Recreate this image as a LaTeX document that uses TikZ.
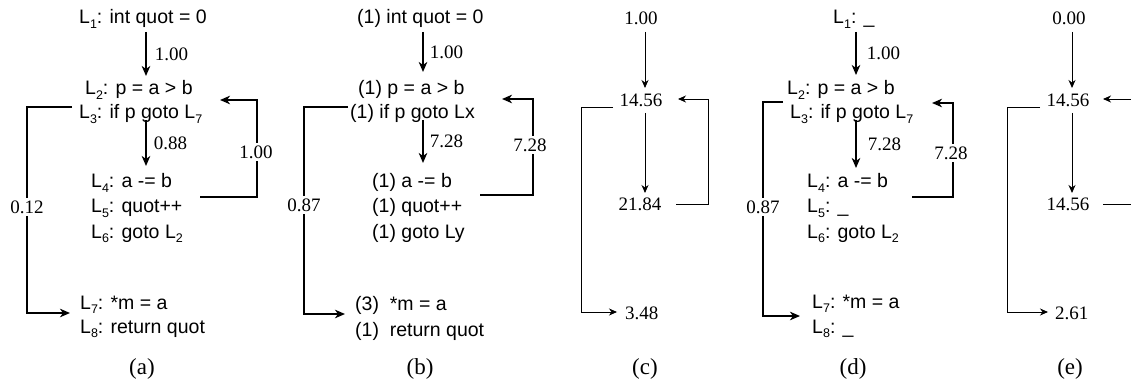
\documentclass[tikz,border=0pt]{standalone}
\usepackage{fontspec}
\setmainfont{Liberation Serif}
\newfontfamily\af{Liberation Sans}
\usetikzlibrary{arrows.meta}
\newcommand\lsub[1]{\raisebox{-0.24em}{\fontsize{12.5}{12}\selectfont #1}}
\tikzset{
  code/.style={anchor=base west,inner sep=0pt,font=\af\fontsize{19.5}{23}\selectfont},
  num/.style={inner sep=0pt,font=\fontsize{19}{22}\selectfont},
  numw/.style={num,fill=white,inner ysep=3pt,inner xsep=1pt},
  captxt/.style={inner sep=0pt,font=\fontsize{23}{26}\selectfont},
  thk/.style={line width=1.8pt},
  thn/.style={line width=0.9pt},
  tk/.style={thk,-{Stealth[length=10pt,width=8.5pt,inset=3pt]}},
  tn/.style={thn,-{Stealth[length=8pt,width=7pt,inset=2.5pt]}},
}
\begin{document}
\begin{tikzpicture}[x=1pt,y=-1pt]
\useasboundingbox (0,0) rectangle (1131,387);
% ---------------- (a)
\node[code] (aL1) at (79,24) {L\lsub{1}: int quot = 0};
\node[code] (aL2) at (85,95) {L\lsub{2}: p = a > b};
\node[code] (aL3) at (79,119) {L\lsub{3}: if p goto L\lsub{7}};
\node[code] (aL4) at (91,188) {L\lsub{4}: a -= b};
\node[code] (aL5) at (91,213) {L\lsub{5}: quot++};
\node[code] (aL6) at (91,238) {L\lsub{6}: goto L\lsub{2}};
\node[code] (aL7) at (80,309) {L\lsub{7}: *m = a};
\node[code] (aL8) at (80,333) {L\lsub{8}: return quot};
\coordinate (a1s) at (146,32); \coordinate (a1e) at (146,76);
\coordinate (a2s) at (146,120); \coordinate (a2e) at (146,166);
\draw[tk] (a1s) -- (a1e) node[num,midway,anchor=west,xshift=8pt] (aw1) {1.00};
\draw[tk] (a2s) -- (a2e) node[num,midway,anchor=west,xshift=7pt] (aw2) {0.88};
\coordinate (ar1) at (200,197); \coordinate (ar2) at (257,197);
\coordinate (ar3) at (257,100); \coordinate (ar4) at (220,100);
\draw[tk] (ar1) -- (ar2) -- (ar3) -- (ar4);
\node[numw] (awr) at (256,152) {1.00};
\coordinate (al1) at (72,107); \coordinate (al2) at (27,107);
\coordinate (al3) at (27,313); \coordinate (al4) at (70,313);
\draw[tk] (al1) -- (al2) -- (al3) -- (al4);
\node[numw] (awl) at (27,207) {0.12};
\node[captxt] (capa) at (142,369) {(a)};
% ---------------- (b)
\node[code] (bL1) at (357,24) {(1) int quot = 0};
\node[code] (bL2) at (358,95) {(1) p = a > b};
\node[code] (bL3) at (350,119) {(1) if p goto Lx};
\node[code] (bL4) at (372,188) {(1) a -= b};
\node[code] (bL5) at (372,213) {(1) quot++};
\node[code] (bL6) at (372,238) {(1) goto Ly};
\node[code] (bL7) at (355,310) {(3)\ \ *m = a};
\node[code] (bL8) at (355,336) {(1)\ \ return quot};
\coordinate (b1s) at (423,32); \coordinate (b1e) at (423,72);
\coordinate (b2s) at (423,120); \coordinate (b2e) at (423,163);
\draw[tk] (b1s) -- (b1e) node[num,midway,anchor=west,xshift=6pt] (bw1) {1.00};
\draw[tk] (b2s) -- (b2e) node[num,midway,anchor=west,xshift=6pt] (bw2) {7.28};
\coordinate (br1) at (480,195); \coordinate (br2) at (533,195);
\coordinate (br3) at (533,99); \coordinate (br4) at (502,99);
\draw[tk] (br1) -- (br2) -- (br3) -- (br4);
\node[numw] (bwr) at (530,145) {7.28};
\coordinate (bl1) at (348,107); \coordinate (bl2) at (304,107);
\coordinate (bl3) at (304,314); \coordinate (bl4) at (345,314);
\draw[tk] (bl1) -- (bl2) -- (bl3) -- (bl4);
\node[numw] (bwl) at (304,205) {0.87};
\node[captxt] (capb) at (420,369) {(b)};
% ---------------- (c)
\node[num] (c1) at (641,18) {1.00};
\node[num] (c2) at (641,100) {14.56};
\node[num] (c3) at (640,204) {21.84};
\node[num,anchor=west] (c4) at (625,313) {3.48};
\coordinate (c1s) at (645,32); \coordinate (c1e) at (645,88);
\coordinate (c2s) at (645,113); \coordinate (c2e) at (645,193);
\draw[tn] (c1s) -- (c1e);
\draw[tn] (c2s) -- (c2e);
\coordinate (cr1) at (676,204); \coordinate (cr2) at (708,204);
\coordinate (cr3) at (708,99); \coordinate (cr4) at (678,99);
\draw[tn] (cr1) -- (cr2) -- (cr3) -- (cr4);
\coordinate (cl1) at (613,107); \coordinate (cl2) at (581,107);
\coordinate (cl3) at (581,312); \coordinate (cl4) at (617,312);
\draw[tn] (cl1) -- (cl2) -- (cl3) -- (cl4);
\node[captxt] (capc) at (645,369) {(c)};
% ---------------- (d)
\node[code] (dL1) at (833,24) {L\lsub{1}: \_};
\node[code] (dL2) at (787,95) {L\lsub{2}: p = a > b};
\node[code] (dL3) at (790,119) {L\lsub{3}: if p goto L\lsub{7}};
\node[code] (dL4) at (807,188) {L\lsub{4}: a -= b};
\node[code] (dL5) at (807,213) {L\lsub{5}: \_};
\node[code] (dL6) at (807,238) {L\lsub{6}: goto L\lsub{2}};
\node[code] (dL7) at (812,308) {L\lsub{7}: *m = a};
\node[code] (dL8) at (812,333) {L\lsub{8}: \_};
\coordinate (d1s) at (856,32); \coordinate (d1e) at (856,75);
\coordinate (d2s) at (856,120); \coordinate (d2e) at (856,168);
\draw[tk] (d1s) -- (d1e) node[num,midway,anchor=west,xshift=10pt] (dw1) {1.00};
\draw[tk] (d2s) -- (d2e) node[num,midway,anchor=west,xshift=11pt] (dw2) {7.28};
\coordinate (dr1) at (912,197); \coordinate (dr2) at (953,197);
\coordinate (dr3) at (953,103); \coordinate (dr4) at (932,103);
\draw[tk] (dr1) -- (dr2) -- (dr3) -- (dr4);
\node[numw] (dwr) at (951,153) {7.28};
\coordinate (dl1) at (783,102); \coordinate (dl2) at (763,102);
\coordinate (dl3) at (763,316); \coordinate (dl4) at (800,316);
\draw[tk] (dl1) -- (dl2) -- (dl3) -- (dl4);
\node[numw] (dwl) at (763,207) {0.87};
\node[captxt] (capd) at (853,369) {(d)};
% ---------------- (e)
\node[num] (e1) at (1069,18) {0.00};
\node[num] (e2) at (1068,100) {14.56};
\node[num] (e3) at (1068,204) {14.56};
\node[num,anchor=west] (e4) at (1055,313) {2.61};
\coordinate (e1s) at (1072,32); \coordinate (e1e) at (1072,88);
\coordinate (e2s) at (1072,113); \coordinate (e2e) at (1072,193);
\draw[tn] (e1s) -- (e1e);
\draw[tn] (e2s) -- (e2e);
\coordinate (er1) at (1131,99); \coordinate (er2) at (1103,99);
\draw[tn] (er1) -- (er2);
\coordinate (er3) at (1103,204); \coordinate (er4) at (1131,204);
\draw[thn] (er3) -- (er4);
\coordinate (el1) at (1040,107); \coordinate (el2) at (1007,107);
\coordinate (el3) at (1007,312); \coordinate (el4) at (1048,312);
\draw[tn] (el1) -- (el2) -- (el3) -- (el4);
\node[captxt] (cape) at (1070,369) {(e)};
\end{tikzpicture}
\end{document}
